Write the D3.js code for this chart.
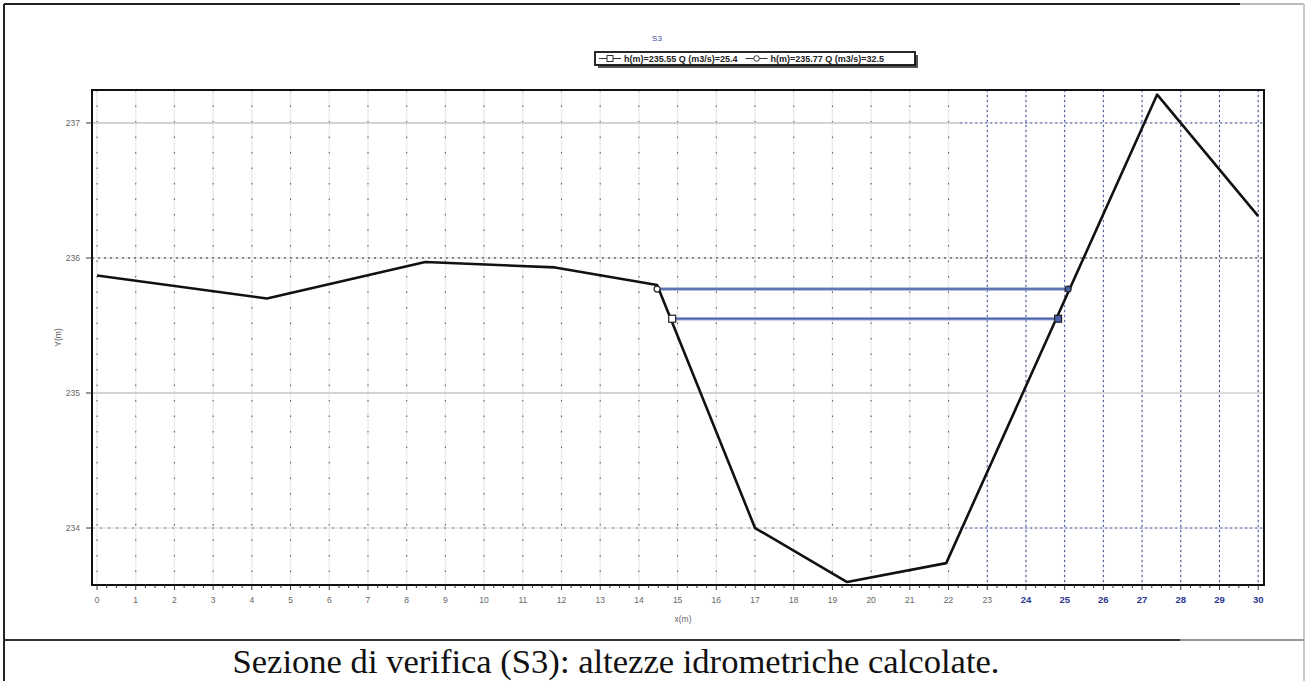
<!DOCTYPE html>
<html><head><meta charset="utf-8">
<script src="https://cdn.jsdelivr.net/npm/d3@7"></script>
<style>html,body{margin:0;padding:0;background:#fff;}svg{display:block;}
.cap{font-family:"Liberation Serif","Tinos","Times New Roman","DejaVu Serif";}</style>
</head><body>
<script>
// ---- data ----
const profileX = [0, 4.39, 8.48, 11.83, 14.47, 17.0, 19.38, 21.94, 27.39, 30];
const profileY = [235.87, 235.70, 235.97, 235.93, 235.80, 234.0, 233.60, 233.74, 237.21, 236.31];
const levels = [235.55, 235.77];
const discharges = [25.4, 32.5];
const levelLeftX = [14.86, 14.47];
const levelRightX = [24.83, 25.09];
const levelMarkers = ["square", "circle"];
const xTicks = d3.range(0, 31);
const yTicks = [234, 235, 236, 237];
const chartTitle = "S3";
const xLabel = "x(m)";
const yLabel = "Y(m)";
const caption = "Sezione di verifica (S3): altezze idrometriche calcolate.";

const W = 1313, H = 682;
const svg = d3.select("body").append("svg").attr("width", W).attr("height", H);

// outer document frame
svg.append("line").attr("x1",4).attr("x2",1240).attr("y1",4).attr("y2",4).attr("stroke","#222").attr("stroke-width",2);
svg.append("line").attr("x1",1240).attr("x2",1304).attr("y1",4).attr("y2",4).attr("stroke","#bbb").attr("stroke-width",2);
svg.append("line").attr("x1",4).attr("x2",4).attr("y1",4).attr("y2",681).attr("stroke","#222").attr("stroke-width",2);
svg.append("line").attr("x1",1304).attr("x2",1304).attr("y1",4).attr("y2",681).attr("stroke","#c8c8c8").attr("stroke-width",2);
svg.append("line").attr("x1",4).attr("x2",1180).attr("y1",640).attr("y2",640).attr("stroke","#333").attr("stroke-width",2);
svg.append("line").attr("x1",1180).attr("x2",1304).attr("y1",640).attr("y2",640).attr("stroke","#999").attr("stroke-width",2);

const L = 92, R = 1264, T = 90, B = 585;
const x = d3.scaleLinear().domain([-0.13, 30.15]).range([L, R]);
const y = d3.scaleLinear().domain([233.578, 237.244]).range([B, T]);

const g = svg.append("g");
const blueStart = 22.3;

// vertical grid
xTicks.forEach(v => {
  g.append("line").attr("x1", x(v)).attr("x2", x(v)).attr("y1", T).attr("y2", B)
    .attr("stroke", "#ececec").attr("stroke-width", 1.5);
  if (v >= 23) {
    g.append("line").attr("x1", x(v)).attr("x2", x(v)).attr("y1", T).attr("y2", B)
      .attr("stroke", "#3a4aa0").attr("stroke-width", 1).attr("stroke-dasharray", "2,3");
  } else {
    g.append("line").attr("x1", x(v)).attr("x2", x(v)).attr("y1", T).attr("y2", B)
      .attr("stroke", "#555").attr("stroke-width", 1).attr("stroke-dasharray", "1.5,14");
  }
});
// horizontal grid
yTicks.forEach(v => {
  g.append("line").attr("x1", L).attr("x2", R).attr("y1", y(v)).attr("y2", y(v))
    .attr("stroke", "#e6e6e6").attr("stroke-width", 1.5);
  const leftStyle = v === 236 ? ["#222", "2,4"] : (v === 234 ? ["#777", "2,6"] : ["#bbb", "1,0"]);
  g.append("line").attr("x1", L).attr("x2", x(blueStart)).attr("y1", y(v)).attr("y2", y(v))
    .attr("stroke", leftStyle[0]).attr("stroke-width", 1).attr("stroke-dasharray", leftStyle[1]);
  g.append("line").attr("x1", x(blueStart)).attr("x2", R).attr("y1", y(v)).attr("y2", y(v))
    .attr("stroke", v === 236 ? "#222" : (v === 235 ? "#ccc" : "#3a4aa0")).attr("stroke-width", 1)
    .attr("stroke-dasharray", v === 235 ? "1,0" : "2,3");
});

// water levels
levels.forEach((h, i) => {
  g.append("line").attr("x1", x(levelLeftX[i])).attr("x2", x(levelRightX[i]))
    .attr("y1", y(h)).attr("y2", y(h))
    .attr("stroke", "#9aabd6").attr("stroke-width", 3.5);
  g.append("line").attr("x1", x(levelLeftX[i])).attr("x2", x(levelRightX[i]))
    .attr("y1", y(h)).attr("y2", y(h))
    .attr("stroke", "#4e63aa").attr("stroke-width", 1.4);
});

// terrain profile
const pts = profileX.map((d, i) => [d, profileY[i]]);
g.append("path").datum(pts)
  .attr("d", d3.line().x(d => x(d[0])).y(d => y(d[1])))
  .attr("fill", "none").attr("stroke", "#111").attr("stroke-width", 2.6).attr("stroke-linejoin", "round");

// markers
levels.forEach((h, i) => {
  [[levelLeftX[i], "#fff"], [levelRightX[i], "#4a5ea8"]].forEach(([xv, fill]) => {
    if (levelMarkers[i] === "circle") {
      g.append("circle").attr("cx", x(xv)).attr("cy", y(h)).attr("r", 3)
        .attr("fill", fill).attr("stroke", "#222").attr("stroke-width", 1.2);
    } else {
      g.append("rect").attr("x", x(xv) - 3.5).attr("y", y(h) - 3.5).attr("width", 7).attr("height", 7)
        .attr("fill", fill).attr("stroke", "#222").attr("stroke-width", 1.2);
    }
  });
});

// plot frame
g.append("rect").attr("x", L).attr("y", T).attr("width", R - L).attr("height", B - T)
  .attr("fill", "none").attr("stroke", "#111").attr("stroke-width", 2);

// x ticks
const minor = d3.range(0, 30.01, 0.25);
minor.forEach(v => {
  const major = Math.abs(v - Math.round(v)) < 1e-6;
  g.append("line").attr("x1", x(v)).attr("x2", x(v)).attr("y1", B).attr("y2", B + (major ? 5 : 3))
    .attr("stroke", "#333").attr("stroke-width", 1);
});
xTicks.forEach(v => {
  const blue = v >= 24;
  g.append("text").attr("x", x(v)).attr("y", B + 18).attr("text-anchor", "middle")
    .attr("font-family", "Arial, 'Liberation Sans', sans-serif").attr("font-size", blue ? 9.5 : 8.5)
    .attr("font-weight", blue ? "bold" : "normal")
    .attr("fill", blue ? "#2a3690" : "#666").text(v);
});
g.append("text").attr("x", 683).attr("y", 622).attr("text-anchor", "middle")
  .attr("font-family", "Arial, 'Liberation Sans', sans-serif").attr("font-size", 8.5).attr("fill", "#666").text(xLabel);

// y ticks
yTicks.forEach(v => {
  g.append("line").attr("x1", L - 6).attr("x2", L).attr("y1", y(v)).attr("y2", y(v)).attr("stroke", "#333");
  g.append("text").attr("x", L - 12).attr("y", y(v) + 3).attr("text-anchor", "end")
    .attr("font-family", "Arial, 'Liberation Sans', sans-serif").attr("font-size", 8.5).attr("fill", "#666").text(v);
});
g.append("text").attr("transform", `translate(61,${(T + B) / 2}) rotate(-90)`).attr("text-anchor", "middle")
  .attr("font-family", "Arial, 'Liberation Sans', sans-serif").attr("font-size", 8.5).attr("fill", "#555").text(yLabel);

// title
svg.append("text").attr("x", 657).attr("y", 41).attr("text-anchor", "middle")
  .attr("font-family", "Arial, 'Liberation Sans', sans-serif").attr("font-size", 8).attr("fill", "#3a4aa0").text(chartTitle);

// legend
const lg = svg.append("g");
const lx = 595, ly = 52, lw = 320, lh = 13;
lg.append("rect").attr("x", lx + 3).attr("y", ly + 3).attr("width", lw).attr("height", lh).attr("fill", "#555");
lg.append("rect").attr("x", lx).attr("y", ly).attr("width", lw).attr("height", lh)
  .attr("fill", "#fff").attr("stroke", "#111").attr("stroke-width", 1.8);
let cx = lx + 4;
levels.forEach((h, i) => {
  const my = ly + lh / 2;
  lg.append("line").attr("x1", cx).attr("x2", cx + 22).attr("y1", my).attr("y2", my).attr("stroke", "#333").attr("stroke-width", 1);
  if (levelMarkers[i] === "circle") {
    lg.append("circle").attr("cx", cx + 11).attr("cy", my).attr("r", 2.8).attr("fill", "#fff").attr("stroke", "#333");
  } else {
    lg.append("rect").attr("x", cx + 8).attr("y", my - 3).attr("width", 6).attr("height", 6).attr("fill", "#fff").attr("stroke", "#333");
  }
  const t = lg.append("text").attr("x", cx + 25).attr("y", my + 3.2)
    .attr("font-family", "Arial, 'Liberation Sans', sans-serif").attr("font-size", 9).attr("font-weight", "bold").attr("fill", "#222")
    .text(`h(m)=${h.toFixed(2)} Q (m3/s)=${discharges[i]}`);
  cx += 25 + t.node().getComputedTextLength() + 8;
});

// caption
svg.append("text").attr("class", "cap").attr("x", 616).attr("y", 673).attr("text-anchor", "middle")
  .attr("font-size", 33).attr("fill", "#111")
  .attr("textLength", 767).attr("lengthAdjust", "spacingAndGlyphs")
  .text(caption);
</script>
</body></html>
